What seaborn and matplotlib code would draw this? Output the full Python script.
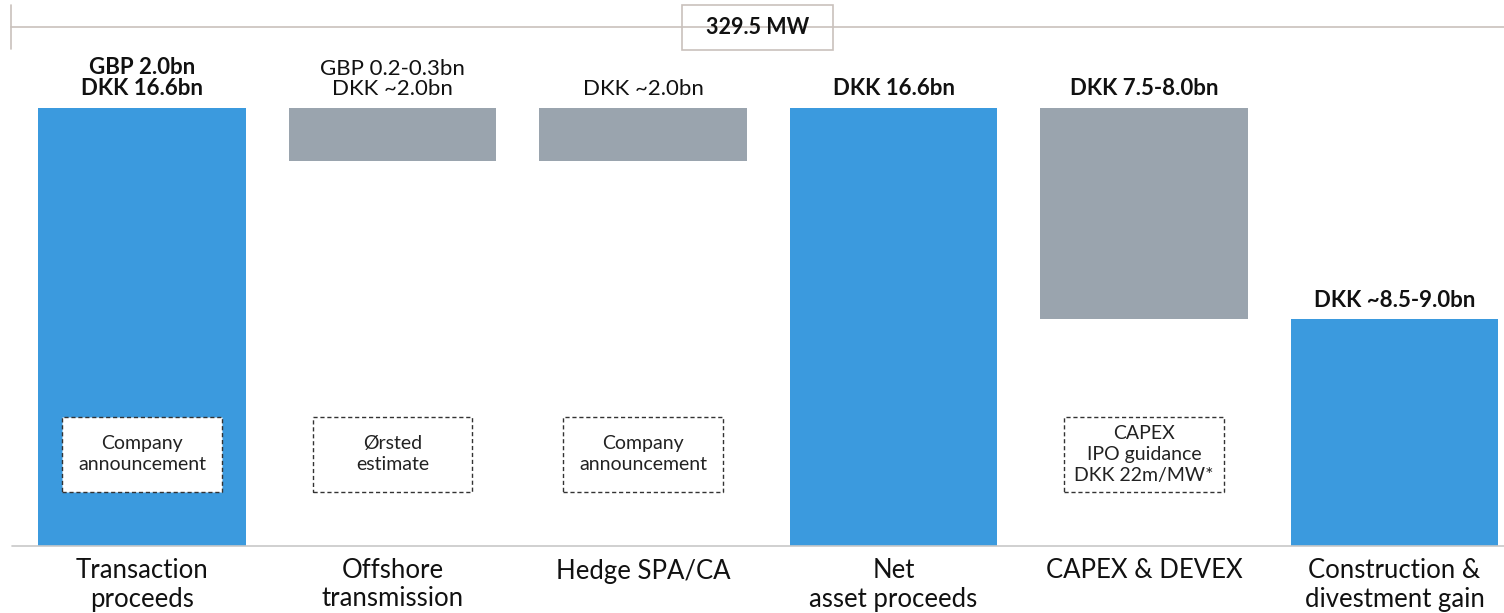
import matplotlib
matplotlib.use("Agg")
import matplotlib.pyplot as plt
import seaborn as sns
from matplotlib.patches import Rectangle
from matplotlib.lines import Line2D

# data (DKK bn)
categories = ["Transaction\nproceeds", "Offshore\ntransmission", "Hedge SPA/CA",
              "Net\nasset proceeds", "CAPEX & DEVEX", "Construction &\ndivestment gain"]
bar_low = [0.0, 14.6, 14.6, 0.0, 8.6, 0.0]
bar_high = [16.6, 16.6, 16.6, 16.6, 16.6, 8.6]
value_labels = ["GBP 2.0bn\nDKK 16.6bn", "GBP 0.2-0.3bn\nDKK ~2.0bn", "DKK ~2.0bn",
                "DKK 16.6bn", "DKK 7.5-8.0bn", "DKK ~8.5-9.0bn"]
label_bold = [True, False, False, True, True, True]
is_total = [True, False, False, True, False, True]
source_notes = ["Company\nannouncement", "Ørsted\nestimate", "Company\nannouncement",
                None, "CAPEX\nIPO guidance\nDKK 22m/MW*", None]
capacity = "329.5 MW"

BLUE = "#3b9ade"
GREY = "#9aa4ae"
LINE = "#c9c1bc"

sns.set_style("white")
plt.rcParams["font.family"] = ["Lato", "DejaVu Sans"]

fig = plt.figure(figsize=(15.04, 6.13), dpi=100)
ax = fig.add_axes([0, 67 / 613, 1, 546 / 613])

heights = [h - l for h, l in zip(bar_high, bar_low)]
sns.barplot(x=categories, y=heights, bottom=bar_low, width=0.83, errorbar=None,
            color=BLUE, ax=ax, linewidth=0, saturation=1)
for patch, tot in zip(ax.patches, is_total):
    patch.set_facecolor(BLUE if tot else GREY)

ax.set_xlim(-0.567, 5.437)
ax.set_ylim(0, 20.68)
sns.despine(ax=ax, left=True, bottom=True, top=True, right=True)
ax.set_yticks([])
ax.set_xlabel("")
ax.set_ylabel("")
ax.tick_params(axis="x", length=0, pad=9, labelsize=18.5, labelcolor="#111111")
for lbl in ax.get_xticklabels():
    lbl.set_linespacing(1.15)

for i, (txt, bold) in enumerate(zip(value_labels, label_bold)):
    ax.annotate(txt, (i, bar_high[i]), xytext=(0, 6), textcoords="offset points",
                ha="center", va="bottom", fontsize=16, linespacing=1.05,
                fontweight="bold" if bold else "normal", color="#111111")

# dashed source boxes
bw, bh, bc = 0.635, 2.84, 3.47
for i, note in enumerate(source_notes):
    if note is None:
        continue
    ax.add_patch(Rectangle((i - bw / 2, bc - bh / 2), bw, bh, facecolor="white",
                           edgecolor="#333333", linestyle=(0, (3, 2)), linewidth=1, zorder=3))
    ax.text(i, bc, note, ha="center", va="center", fontsize=14, linespacing=1.3,
            color="#222222", zorder=4)

# baseline
fig.add_artist(Line2D([12 / 1504, 1], [67 / 613, 67 / 613], color="#c8c8c8", lw=1.2))

# capacity bracket on top
ytop = 1 - 27 / 613
fig.add_artist(Line2D([11 / 1504, 1], [ytop, ytop], color=LINE, lw=1.2))
fig.add_artist(Line2D([11 / 1504, 11 / 1504], [1 - 5 / 613, 1 - 49 / 613], color=LINE, lw=1.2))
fig.add_artist(Rectangle((682 / 1504, 1 - 50 / 613), 151 / 1504, 45 / 613, facecolor="white",
                         edgecolor=LINE, lw=1.2, transform=fig.transFigure))
fig.text(757.5 / 1504, 1 - 28 / 613, capacity, ha="center", va="center",
         fontsize=15.5, fontweight="bold", color="#111111")

fig.savefig("out.png", dpi=100)
